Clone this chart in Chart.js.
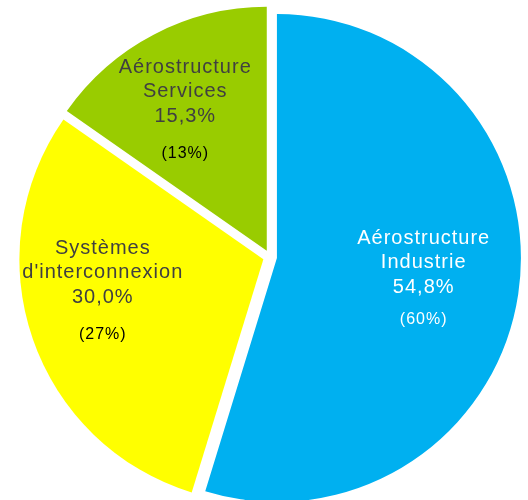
<!DOCTYPE html>
<html>
<head>
<meta charset="utf-8">
<script src="https://cdn.jsdelivr.net/npm/chart.js@4/dist/chart.umd.min.js"></script>
<style>
  body { margin: 0; background: #fff; }
</style>
</head>
<body>
<canvas id="pie" width="528" height="500"></canvas>
<script>
// data
const categories = [['Aérostructure', 'Industrie'], ['Systèmes', "d'interconnexion"], ['Aérostructure', 'Services']]
const shares = [54.8, 30.0, 15.3]
const previousShares = ['(60%)', '(27%)', '(13%)']

const sliceColors = ['#00B0F0', '#FFFF00', '#99CC00']
const textColors = ['#ffffff', '#404040', '#404040']
const smallColors = ['#ffffff', '#000000', '#000000']
const explode = 7
// where the label block sits: fraction of radius on the mid angle, plus a nudge
const labelRadius = [0.6, 0.67, 0.67]
const labelNudge = [[2, -1], [-6, -23], [-6, 2]]

function fmt(v) {
  return v.toFixed(1).replace('.', ',') + '%'
}

// pull every slice out along its mid angle (chart.js offset also grows big slices)
const explodePlugin = {
  id: 'explode',
  afterUpdate(chart) {
    chart.getDatasetMeta(0).data.forEach(arc => {
      const mid = (arc.startAngle + arc.endAngle) / 2
      arc.x += Math.cos(mid) * explode
      arc.y += Math.sin(mid) * explode
    })
  }
}

const labelPlugin = {
  id: 'sliceLabels',
  afterDatasetsDraw(chart) {
    const ctx = chart.ctx
    const arcs = chart.getDatasetMeta(0).data
    ctx.save()
    ctx.textAlign = 'center'
    ctx.textBaseline = 'alphabetic'
    ctx.letterSpacing = '1px'
    arcs.forEach((arc, i) => {
      const mid = (arc.startAngle + arc.endAngle) / 2
      const r = arc.outerRadius * labelRadius[i]
      const cx = arc.x + Math.cos(mid) * r + labelNudge[i][0]
      const cy = arc.y + Math.sin(mid) * r + labelNudge[i][1]
      ctx.font = '20px "Liberation Sans", Arial, sans-serif'
      ctx.fillStyle = textColors[i]
      const lines = categories[i].concat([fmt(shares[i])])
      const offs = [-35, -11, 14]
      lines.forEach((t, k) => ctx.fillText(t, cx, cy + offs[k]))
      ctx.font = '16px "Liberation Sans", Arial, sans-serif'
      ctx.fillStyle = smallColors[i]
      ctx.fillText(previousShares[i], cx, cy + (i === 0 ? 45 : 50))
    })
    ctx.restore()
  }
}

new Chart(document.getElementById('pie'), {
  type: 'pie',
  data: {
    labels: categories.map(c => c.join(' ')),
    datasets: [{
      data: shares,
      backgroundColor: sliceColors,
      borderWidth: 0,
      clip: false
    }]
  },
  options: {
    responsive: false,
    animation: false,
    events: [],
    radius: 244,
    layout: { padding: { left: 12, right: 0, top: 14, bottom: 0 } },
    plugins: {
      legend: { display: false },
      tooltip: { enabled: false }
    }
  },
  plugins: [explodePlugin, labelPlugin]
})
</script>
</body>
</html>
